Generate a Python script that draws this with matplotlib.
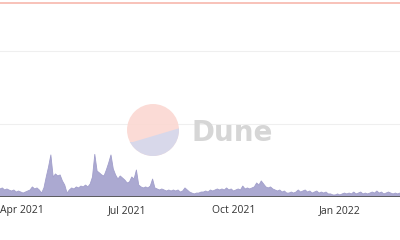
import numpy as np
import pandas as pd
import matplotlib
matplotlib.use('Agg')
import matplotlib.pyplot as plt
import matplotlib.dates as mdates
from matplotlib.patches import Circle, Polygon
from matplotlib.transforms import IdentityTransform

# every second day starting 13 Mar 2021
start_date = '2021-03-13'
volume = [55, 62, 48, 55, 47, 41, 48, 34, 41, 34,
          27, 34, 41, 48, 69, 55, 62, 48, 27, 62,
          137, 206, 288, 137, 158, 144, 151, 110, 82, 27,
          48, 62, 55, 69, 62, 75, 69, 82, 69, 89,
          137, 292, 178, 165, 151, 144, 185, 233, 288, 192,
          151, 123, 144, 130, 116, 96, 103, 137, 123, 185,
          82, 69, 62, 69, 62, 75, 123, 62, 55, 48,
          55, 48, 41, 48, 41, 48, 41, 48, 34, 41,
          62, 48, 34, 27, 21, 27, 27, 34, 34, 41,
          34, 48, 41, 48, 55, 48, 55, 48, 62, 48,
          55, 41, 48, 55, 48, 75, 55, 62, 55, 62,
          69, 96, 82, 110, 89, 69, 62, 69, 55, 48,
          41, 48, 34, 41, 27, 27, 34, 27, 34, 48,
          34, 41, 48, 34, 41, 27, 34, 41, 27, 34,
          27, 34, 21, 21, 14, 14, 21, 14, 21, 27,
          21, 27, 21, 34, 21, 27, 34, 21, 27, 21,
          27, 34, 27, 41, 27, 34, 21, 27, 34, 27,
          21, 27, 21, 27]
ref_level = 1329
tick_dates = ['2021-04-01', '2021-07-01', '2021-10-01', '2022-01-01']

dates = pd.date_range(start_date, periods=len(volume), freq='2D')

fig = plt.figure(figsize=(4, 2.4), dpi=100)
ax = fig.add_axes([0, 1 - 197 / 240, 1, 197 / 240])

ax.fill_between(dates, volume, 0, color='#aba9d1', lw=0, zorder=2)
ax.plot(dates, volume, color='#a19ecb', lw=0.6, zorder=2)

ax.set_xlim(pd.Timestamp('2021-03-13'), pd.Timestamp('2022-02-22'))
ax.set_ylim(0, 1349)
for g in [500, 1000]:
	ax.axhline(g, color='#efefef', lw=0.8, zorder=1)
ax.axhline(ref_level, color='#f7b8ad', lw=1.2, zorder=1)
ax.axhline(0, color='#555555', lw=1.3, zorder=3)

for s in ax.spines.values():
	s.set_visible(False)
ax.set_yticks([])
ax.set_xticks(pd.to_datetime(tick_dates))
ax.xaxis.set_major_formatter(mdates.DateFormatter('%b %Y'))
ax.tick_params(axis='x', length=0, pad=6, labelsize=7.5, labelcolor='#333333')
for t in ax.get_xticklabels():
	t.set_family('Open Sans')

# watermark (pixel coordinates)
circ = Circle((153, 110), 26, transform=IdentityTransform(),
			  facecolor='#fbd8d2', edgecolor='none', alpha=0.9, zorder=5)
fig.patches.append(circ)
lower = Polygon([(120, 98), (133, 98), (180, 112), (190, 112), (190, 60), (120, 60)],
				closed=True, transform=IdentityTransform(),
				facecolor='#d8d8ea', edgecolor='none', zorder=6)
fig.patches.append(lower)
lower.set_clip_path(circ)
fig.text(192 / 400, 1 - 141 / 240, 'Dune', fontsize=20, fontweight='bold',
		 color='#d6d6d6', va='baseline', ha='left', family='DejaVu Sans')

fig.savefig('out.png', dpi=100)
